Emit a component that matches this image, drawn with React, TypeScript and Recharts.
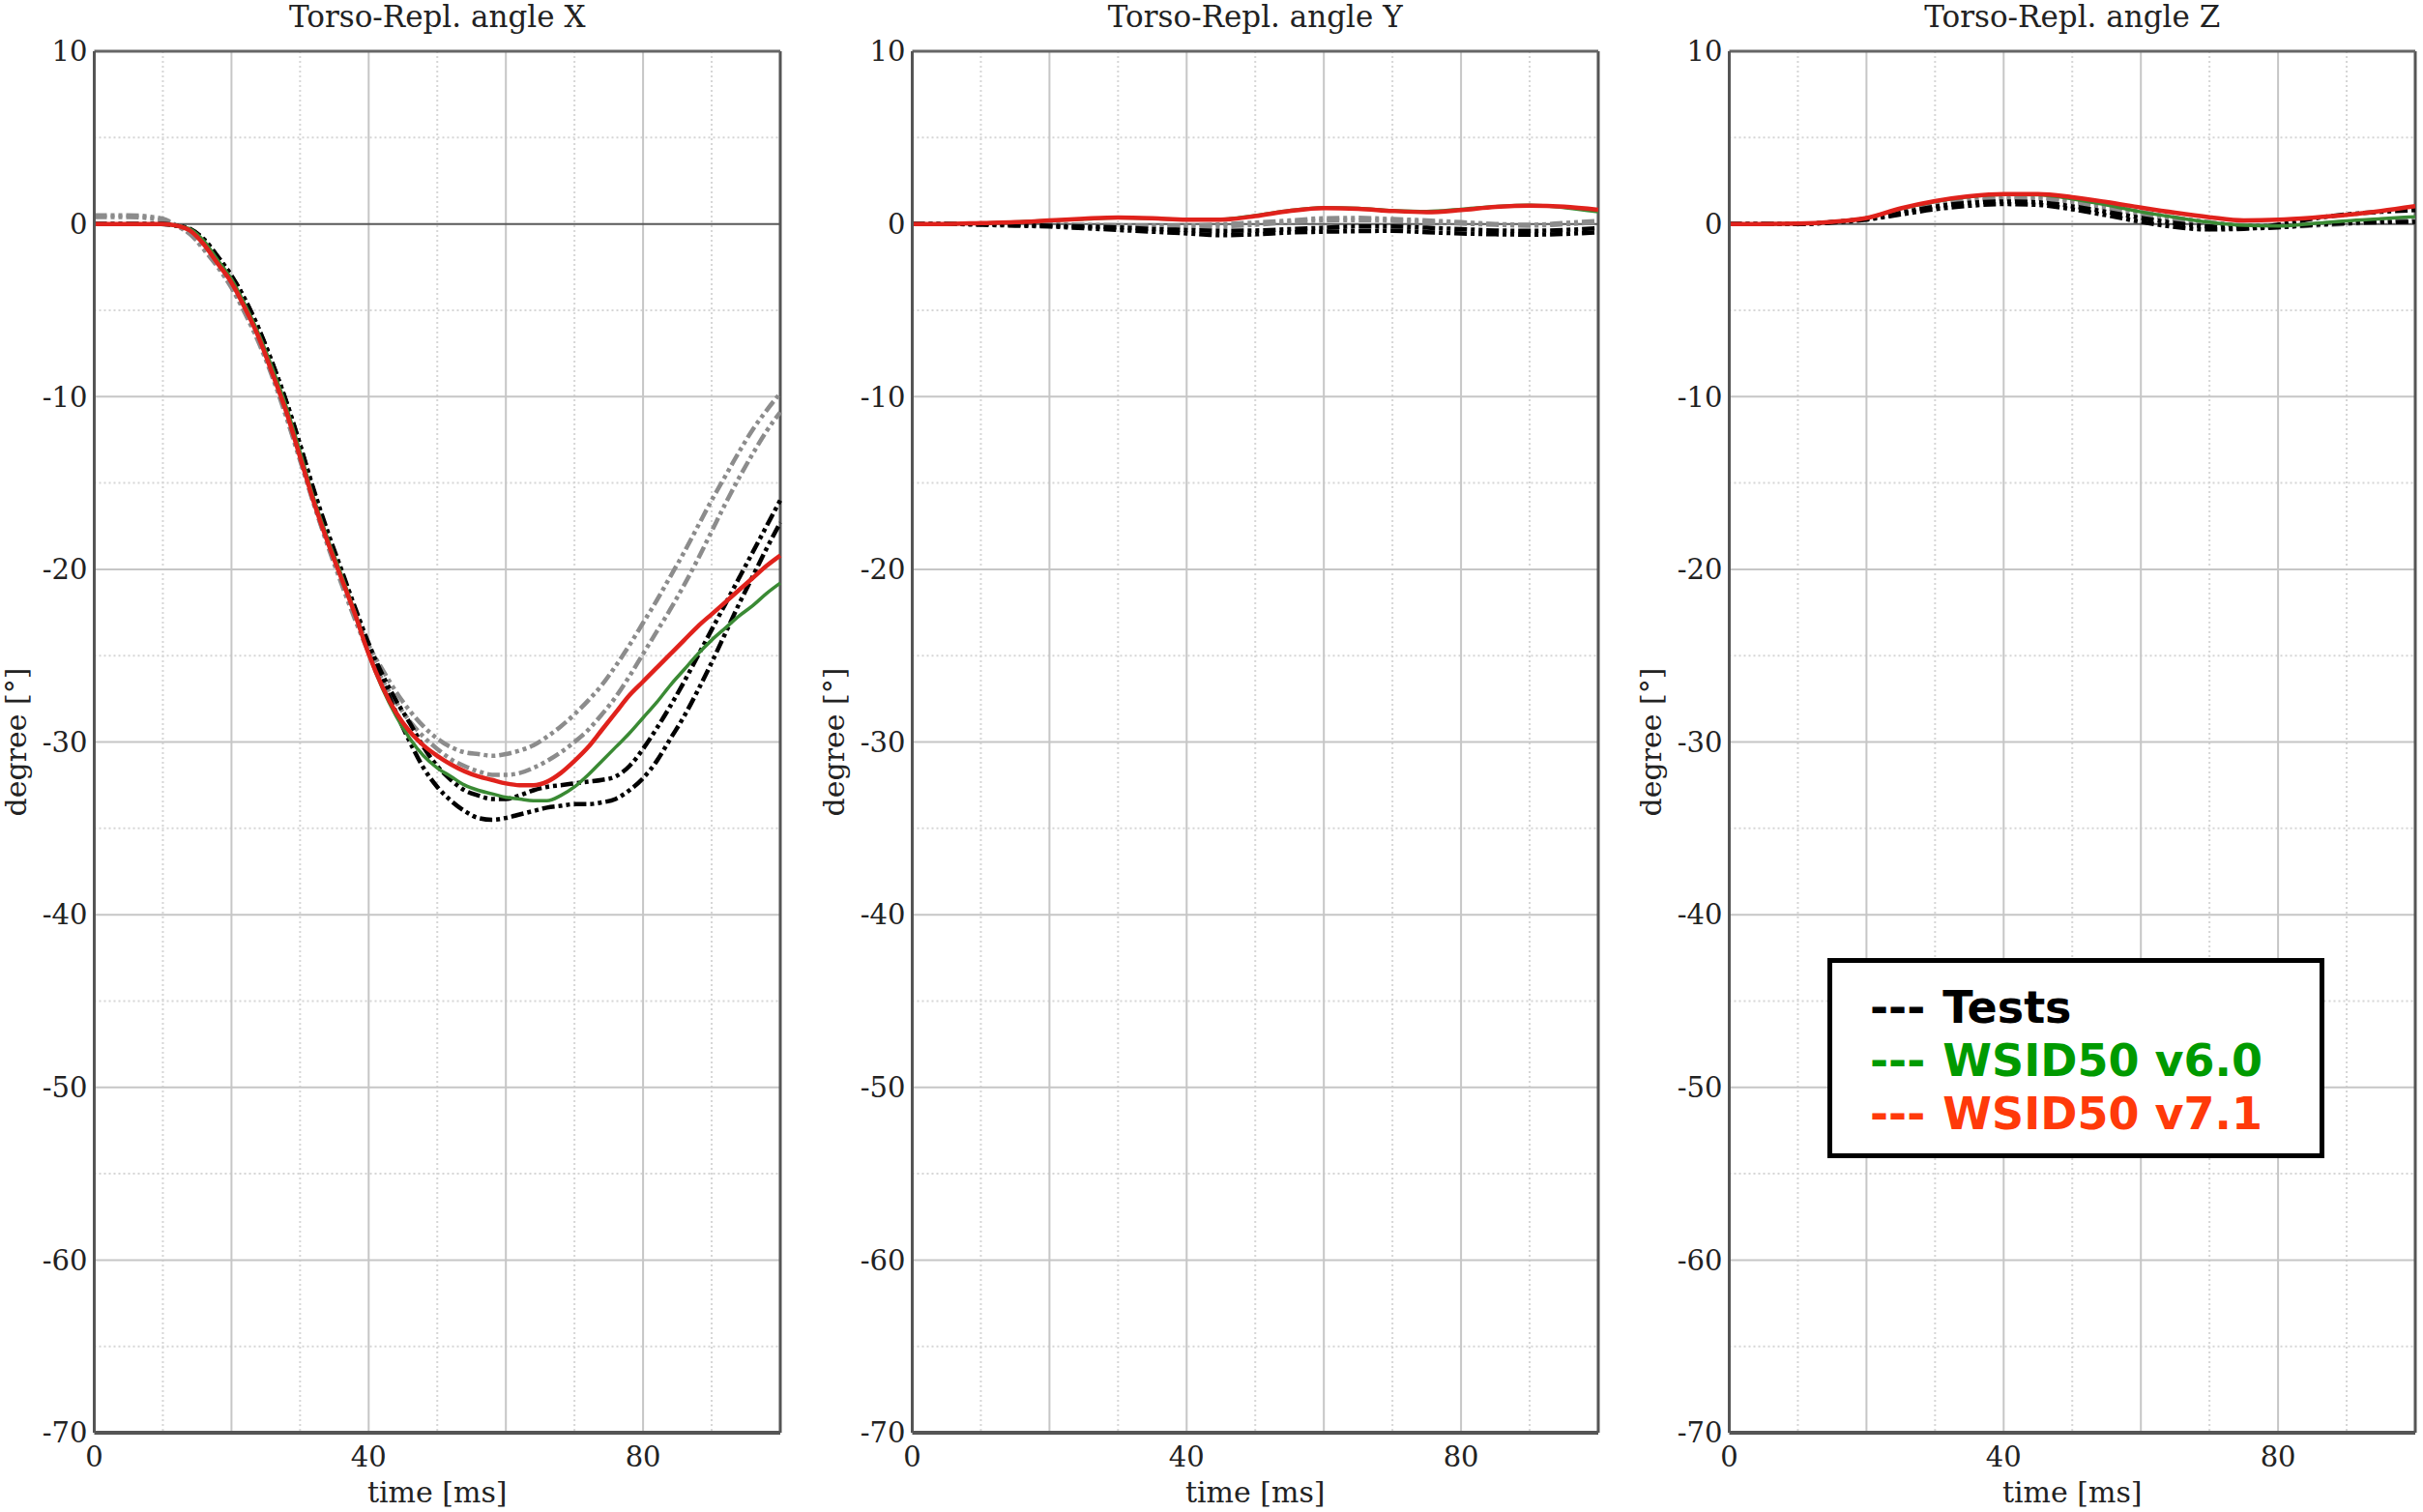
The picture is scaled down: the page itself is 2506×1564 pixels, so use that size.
import { LineChart, Line, XAxis, YAxis, CartesianGrid, Legend } from 'recharts';

// time axis (ms) for the X-angle panel
const TIME_X = [0, 5, 10, 12, 14, 16, 18, 20, 22, 24, 26, 28, 30, 32, 34, 36, 38, 40, 42, 44, 46, 48, 50, 52, 54, 56, 58, 60, 62, 64, 66, 68, 70, 72, 74, 76, 78, 80, 82, 84, 86, 88, 90, 92, 94, 96, 98, 100];

const X_TEST_1 = [0, 0, 0, -0.1, -0.3, -0.9, -1.9, -3.0, -4.4, -6.1, -8.1, -10.3, -12.8, -15.5, -17.9, -20.1, -22.3, -24.5, -26.5, -28.3, -30.0, -31.5, -32.6, -33.4, -34.0, -34.4, -34.5, -34.4, -34.2, -34.0, -33.8, -33.7, -33.6, -33.6, -33.5, -33.3, -32.8, -32.1, -31.1, -29.8, -28.5, -27.0, -25.4, -23.7, -22.0, -20.4, -18.8, -17.3];
const X_TEST_2 = [0, 0, 0, -0.1, -0.3, -0.9, -1.9, -3.0, -4.4, -6.1, -8.1, -10.3, -12.8, -15.4, -17.8, -20.0, -22.2, -24.3, -26.1, -27.6, -28.9, -30.3, -31.4, -32.2, -32.8, -33.1, -33.3, -33.3, -33.1, -32.8, -32.6, -32.5, -32.4, -32.3, -32.2, -32.0, -31.4, -30.4, -29.2, -27.9, -26.5, -25.0, -23.5, -22.0, -20.5, -19.0, -17.5, -16.0];
const X_TEST_3 = [0.4, 0.4, 0.2, -0.1, -0.6, -1.4, -2.4, -3.6, -5.1, -6.8, -8.8, -11.1, -13.6, -16.2, -18.6, -20.8, -22.9, -24.8, -26.4, -27.7, -28.8, -29.7, -30.4, -31.0, -31.4, -31.7, -31.9, -31.9, -31.8, -31.5, -31.1, -30.6, -30.0, -29.3, -28.4, -27.4, -26.2, -24.9, -23.6, -22.3, -20.9, -19.4, -17.8, -16.2, -14.7, -13.3, -12.0, -10.9];
const X_TEST_4 = [0.5, 0.5, 0.3, -0.1, -0.6, -1.5, -2.5, -3.7, -5.2, -6.9, -8.9, -11.2, -13.7, -16.2, -18.5, -20.6, -22.6, -24.4, -25.8, -27.1, -28.2, -29.1, -29.8, -30.3, -30.6, -30.7, -30.8, -30.7, -30.5, -30.2, -29.7, -29.1, -28.4, -27.6, -26.7, -25.6, -24.4, -23.1, -21.8, -20.4, -19.0, -17.5, -16.0, -14.6, -13.2, -11.9, -10.8, -9.8];
const X_V60 = [0, 0, 0, -0.1, -0.3, -1.0, -2.1, -3.2, -4.7, -6.4, -8.4, -10.6, -13.2, -15.9, -18.2, -20.3, -22.5, -24.9, -26.9, -28.5, -29.8, -30.8, -31.5, -32.0, -32.5, -32.8, -33.0, -33.2, -33.3, -33.4, -33.4, -33.1, -32.6, -31.9, -31.1, -30.3, -29.5, -28.6, -27.7, -26.7, -25.8, -24.9, -24.1, -23.4, -22.7, -22.1, -21.4, -20.8];
const X_V71 = [0, 0, 0, -0.1, -0.4, -1.2, -2.3, -3.4, -4.9, -6.6, -8.7, -10.9, -13.5, -16.1, -18.4, -20.5, -22.6, -24.9, -26.8, -28.3, -29.4, -30.2, -30.8, -31.3, -31.7, -32.0, -32.2, -32.4, -32.5, -32.5, -32.3, -31.8, -31.1, -30.3, -29.3, -28.3, -27.3, -26.5, -25.7, -24.9, -24.1, -23.3, -22.6, -21.9, -21.2, -20.5, -19.8, -19.2];

// time axis (ms) for the Y and Z panels
const TIME_YZ = [0, 5, 10, 15, 20, 25, 30, 35, 40, 45, 50, 55, 60, 65, 70, 75, 80, 85, 90, 95, 100];

const Y_TEST_1 = [0, 0, -0.05, -0.1, -0.15, -0.25, -0.35, -0.45, -0.55, -0.65, -0.6, -0.5, -0.45, -0.42, -0.4, -0.48, -0.55, -0.6, -0.62, -0.58, -0.48];
const Y_TEST_2 = [0, 0, 0, -0.05, -0.1, -0.15, -0.2, -0.3, -0.35, -0.4, -0.38, -0.3, -0.22, -0.15, -0.15, -0.22, -0.3, -0.38, -0.4, -0.35, -0.25];
const Y_TEST_3 = [0, 0, 0, 0, -0.05, -0.1, -0.15, -0.2, -0.2, -0.15, -0.05, 0.1, 0.2, 0.22, 0.18, 0.1, 0.02, -0.05, -0.1, -0.02, 0.1];
const Y_TEST_4 = [0, 0, 0.02, 0.02, 0, -0.05, -0.08, -0.1, -0.1, -0.02, 0.08, 0.2, 0.33, 0.35, 0.28, 0.2, 0.1, 0, -0.05, 0.05, 0.18];
const Y_V60 = [0, 0, 0.05, 0.1, 0.2, 0.28, 0.35, 0.32, 0.25, 0.27, 0.48, 0.78, 0.95, 0.9, 0.78, 0.72, 0.85, 1.0, 1.08, 0.95, 0.7];
const Y_V71 = [0, 0, 0.05, 0.1, 0.2, 0.3, 0.37, 0.33, 0.25, 0.25, 0.45, 0.75, 0.92, 0.88, 0.75, 0.68, 0.8, 0.98, 1.06, 1.0, 0.82];

const Z_TEST_1 = [0, 0, 0, 0.08, 0.25, 0.55, 0.85, 1.05, 1.15, 1.1, 0.85, 0.5, 0.12, -0.18, -0.32, -0.28, -0.05, 0.3, 0.55, 0.7, 0.8];
const Z_TEST_2 = [0, 0, 0, 0.1, 0.3, 0.65, 1.0, 1.22, 1.3, 1.25, 1.02, 0.7, 0.35, 0.05, -0.15, -0.25, -0.2, -0.05, 0.05, 0.1, 0.12];
const Z_TEST_3 = [0, 0, 0, 0.1, 0.3, 0.68, 1.05, 1.3, 1.45, 1.45, 1.25, 0.92, 0.55, 0.25, 0.02, -0.12, -0.18, -0.1, 0, 0.1, 0.15];
const Z_TEST_4 = [0, 0, 0, 0.1, 0.32, 0.72, 1.1, 1.38, 1.52, 1.52, 1.35, 1.05, 0.7, 0.36, 0.1, -0.08, -0.1, 0, 0.1, 0.2, 0.3];
const Z_V60 = [0, 0, 0.02, 0.12, 0.34, 0.88, 1.3, 1.58, 1.7, 1.68, 1.45, 1.1, 0.7, 0.38, 0.1, -0.08, -0.12, 0.02, 0.18, 0.3, 0.42];
const Z_V71 = [0, 0, 0.02, 0.12, 0.34, 0.9, 1.32, 1.6, 1.73, 1.73, 1.55, 1.27, 0.95, 0.65, 0.39, 0.2, 0.24, 0.36, 0.52, 0.75, 1.03];

const X_TICKS = [0, 40, 80];
const Y_TICKS = [10, 0, -10, -20, -30, -40, -50, -60, -70];
const MAJOR_X = [20, 40, 60, 80];
const MINOR_X = [10, 30, 50, 70, 90];
const MAJOR_Y = [-10, -20, -30, -40, -50, -60];
const MINOR_Y = [5, -5, -15, -25, -35, -45, -55, -65];

const LEGEND_ITEMS = [
  { label: 'Tests', color: '#000000' },
  { label: 'WSID50 v6.0', color: '#009a00' },
  { label: 'WSID50 v7.1', color: '#ff3a0a' },
];

const SERIF = '"DejaVu Serif", serif';
const INK = '#222';

const SERIES = [
  { key: 'test4', stroke: '#8c8c8c', dash: '13 4 4 4 4 4', width: 4.5 },
  { key: 'test3', stroke: '#8c8c8c', dash: '13 4 4 4 4 4', width: 4.5 },
  { key: 'test2', stroke: '#000', dash: '13 4 4 4 4 4', width: 4.5 },
  { key: 'test1', stroke: '#000', dash: '13 4 4 4 4 4', width: 4.5 },
  { key: 'v60', stroke: '#3a8a34', dash: undefined, width: 3.5 },
  { key: 'v71', stroke: '#e0221c', dash: undefined, width: 4.5 },
];

function buildRows(time: number[], series: Record<string, number[]>) {
  return time.map((t, i) => {
    const row: Record<string, number> = { t };
    Object.keys(series).forEach((k) => {
      row[k] = series[k][i];
    });
    return row;
  });
}

const ROWS_X = buildRows(TIME_X, { test1: X_TEST_1, test2: X_TEST_2, test3: X_TEST_3, test4: X_TEST_4, v60: X_V60, v71: X_V71 });
const ROWS_Y = buildRows(TIME_YZ, { test1: Y_TEST_1, test2: Y_TEST_2, test3: Y_TEST_3, test4: Y_TEST_4, v60: Y_V60, v71: Y_V71 });
const ROWS_Z = buildRows(TIME_YZ, { test1: Z_TEST_1, test2: Z_TEST_2, test3: Z_TEST_3, test4: Z_TEST_4, v60: Z_V60, v71: Z_V71 });

const CHART_W = 813;
const CHART_H = 1564;

const renderYLabel = (props: any) => {
  const vb = props.viewBox || {};
  const cy = vb.y !== undefined ? vb.y + vb.height / 2 : 767;
  return (
    <text x={27} y={cy} transform={`rotate(-90 27 ${cy})`} textAnchor="middle" fontSize={30} fontFamily={SERIF} fill={INK}>
      degree [°]
    </text>
  );
};

function LegendBox() {
  return (
    <div
      style={{
        boxSizing: 'border-box',
        width: 514,
        height: 207,
        border: '5px solid #000',
        background: '#fff',
        padding: '19px 0 0 39px',
        fontFamily: '"DejaVu Sans", Verdana, sans-serif',
        fontWeight: 'bold',
        fontSize: 46,
        lineHeight: '55px',
        whiteSpace: 'nowrap',
      }}
    >
      {LEGEND_ITEMS.map((item) => (
        <div key={item.label} style={{ color: item.color }}>
          <span style={{ marginRight: 18 }}>---</span>
          {item.label}
        </div>
      ))}
    </div>
  );
}

function Panel({ title, rows, left, showLegend }: { title: string; rows: any[]; left: number; showLegend?: boolean }) {
  return (
    <div style={{ position: 'absolute', left, top: 0 }}>
      <LineChart width={CHART_W} height={CHART_H} data={rows} margin={{ top: 0, right: 6, bottom: 0, left: 0 }}>
        <CartesianGrid horizontal={false} verticalValues={MINOR_X} stroke="#d6d6d6" strokeDasharray="2 3" strokeWidth={2} />
        <CartesianGrid vertical={false} horizontalValues={MINOR_Y} stroke="#d6d6d6" strokeDasharray="2 3" strokeWidth={2} />
        <CartesianGrid verticalValues={MAJOR_X} horizontalValues={MAJOR_Y} stroke="#c6c6c6" strokeWidth={2} />
        <CartesianGrid vertical={false} horizontalValues={[0]} stroke="#5a5a5a" strokeWidth={2} />
        <CartesianGrid horizontal={false} verticalValues={[100]} stroke="#555" strokeWidth={3} />
        <XAxis
          xAxisId="top"
          orientation="top"
          type="number"
          domain={[0, 100]}
          height={53}
          tick={false}
          tickLine={false}
          axisLine={{ stroke: '#666', strokeWidth: 3 }}
          label={{ value: title, position: 'center', dy: -10, fill: INK, fontSize: 31, fontFamily: SERIF }}
        />
        <XAxis
          dataKey="t"
          type="number"
          domain={[0, 100]}
          ticks={X_TICKS}
          interval={0}
          height={82}
          tickLine={false}
          tickSize={6}
          tickMargin={8}
          axisLine={{ stroke: '#555', strokeWidth: 4 }}
          tick={{ fill: INK, fontSize: 29, fontFamily: SERIF }}
          label={{ value: 'time [ms]', position: 'insideBottom', offset: 10, fill: INK, fontSize: 30, fontFamily: SERIF }}
        />
        <YAxis
          type="number"
          domain={[-70, 10]}
          ticks={Y_TICKS}
          interval={0}
          width={97.5}
          tickLine={false}
          tickSize={6}
          tickMargin={1}
          axisLine={{ stroke: '#555', strokeWidth: 3 }}
          tick={{ fill: INK, fontSize: 29, fontFamily: SERIF }}
          label={{ content: renderYLabel }}
        />
        {SERIES.map((s) => (
          <Line
            key={s.key}
            type="monotone"
            dataKey={s.key}
            stroke={s.stroke}
            strokeWidth={s.width}
            strokeDasharray={s.dash}
            dot={false}
            activeDot={false}
            isAnimationActive={false}
          />
        ))}
        {showLegend && (
          <Legend
            layout="vertical"
            align="center"
            verticalAlign="middle"
            wrapperStyle={{ left: 199.5, top: 991, width: 514, height: 207 }}
            content={() => <LegendBox />}
          />
        )}
      </LineChart>
    </div>
  );
}

export default function App() {
  return (
    <div style={{ position: 'absolute', left: 0, top: 0, width: 2506, height: 1564, background: '#fff' }}>
      <Panel title="Torso-Repl. angle X" rows={ROWS_X} left={0} />
      <Panel title="Torso-Repl. angle Y" rows={ROWS_Y} left={845.5} />
      <Panel title="Torso-Repl. angle Z" rows={ROWS_Z} left={1690.5} showLegend />
    </div>
  );
}
